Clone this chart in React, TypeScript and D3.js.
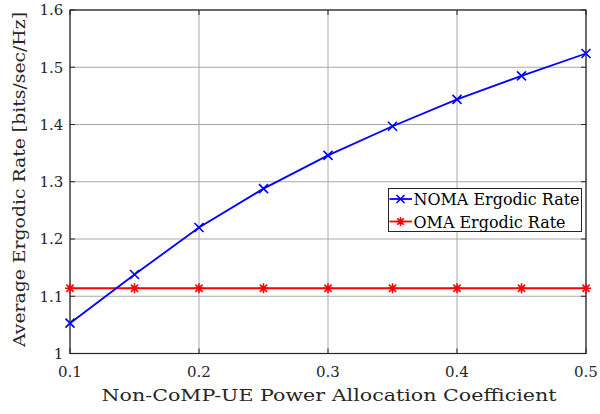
import React from "react";
import * as d3 from "d3";

const alphas = [0.1, 0.15, 0.2, 0.25, 0.3, 0.35, 0.4, 0.45, 0.5];
const nomaRate = [1.053, 1.138, 1.22, 1.288, 1.346, 1.397, 1.444, 1.485, 1.524];
const omaRate = [1.114, 1.114, 1.114, 1.114, 1.114, 1.114, 1.114, 1.114, 1.114];
const xTicks = [0.1, 0.2, 0.3, 0.4, 0.5];
const yTicks = [1, 1.1, 1.2, 1.3, 1.4, 1.5, 1.6];
const seriesNames = ["NOMA Ergodic Rate", "OMA Ergodic Rate"];

const W = 600;
const H = 414;
const M = { left: 70, right: 586, top: 10, bottom: 353.5 };
const FONT = "'DejaVu Serif', 'Liberation Serif', serif";

export default function App() {
  const x = d3.scaleLinear().domain([0.1, 0.5]).range([M.left, M.right]);
  const y = d3.scaleLinear().domain([1, 1.6]).range([M.bottom, M.top]);
  const line = d3
    .line<number>()
    .x((_, i) => x(alphas[i]))
    .y((d) => y(d));

  const axisColor = "#262626";
  const gridColor = "#a8a8a8";
  const tickLen = 5;

  const xMark = (cx: number, cy: number, s: number, key: string) => (
    <path
      key={key}
      d={`M${cx - s},${cy - s}L${cx + s},${cy + s}M${cx - s},${cy + s}L${cx + s},${cy - s}`}
      stroke="#0000ff"
      strokeWidth={1.6}
    />
  );
  const starMark = (cx: number, cy: number, s: number, key: string) => {
    const d2 = s * 0.72;
    return (
      <path
        key={key}
        d={`M${cx - s},${cy}L${cx + s},${cy}M${cx},${cy - s}L${cx},${cy + s}M${cx - d2},${cy - d2}L${cx + d2},${cy + d2}M${cx - d2},${cy + d2}L${cx + d2},${cy - d2}`}
        stroke="#ff0000"
        strokeWidth={1.6}
      />
    );
  };

  const lg = { x: 388.5, y: 188.5, w: 193, h: 43 };

  return (
    <svg width={W} height={H} style={{ position: "absolute", left: 0, top: 0, background: "#fff" }}>
      <rect x={0} y={0} width={W} height={H} fill="#fff" />
      {/* grid */}
      {xTicks.map((t) => (
        <line key={"gx" + t} x1={x(t)} x2={x(t)} y1={M.top} y2={M.bottom} stroke={gridColor} strokeWidth={1} />
      ))}
      {yTicks.map((t) => (
        <line key={"gy" + t} x1={M.left} x2={M.right} y1={y(t)} y2={y(t)} stroke={gridColor} strokeWidth={1} />
      ))}
      {/* ticks (inside, both sides) */}
      {xTicks.map((t) => (
        <g key={"tx" + t}>
          <line x1={x(t)} x2={x(t)} y1={M.bottom} y2={M.bottom - tickLen} stroke={axisColor} />
          <line x1={x(t)} x2={x(t)} y1={M.top} y2={M.top + tickLen} stroke={axisColor} />
        </g>
      ))}
      {yTicks.map((t) => (
        <g key={"ty" + t}>
          <line x1={M.left} x2={M.left + tickLen} y1={y(t)} y2={y(t)} stroke={axisColor} />
          <line x1={M.right} x2={M.right - tickLen} y1={y(t)} y2={y(t)} stroke={axisColor} />
        </g>
      ))}
      {/* box */}
      <rect x={M.left} y={M.top} width={M.right - M.left} height={M.bottom - M.top} fill="none" stroke={axisColor} strokeWidth={1.2} />
      {/* series */}
      <path d={line(omaRate) || ""} fill="none" stroke="#ff0000" strokeWidth={1.8} />
      <path d={line(nomaRate) || ""} fill="none" stroke="#0000ff" strokeWidth={1.8} />
      {omaRate.map((v, i) => starMark(x(alphas[i]), y(v), 5, "s" + i))}
      {nomaRate.map((v, i) => xMark(x(alphas[i]), y(v), 4.5, "x" + i))}
      {/* tick labels */}
      {xTicks.map((t) => (
        <text key={"lx" + t} x={x(t)} y={376.7} textAnchor="middle" fontFamily={FONT} fontSize={15} fill={axisColor}>
          {d3.format("")(t)}
        </text>
      ))}
      {yTicks.map((t) => (
        <text key={"ly" + t} x={63.3} y={y(t) + 5.3} textAnchor="end" fontFamily={FONT} fontSize={15} fill={axisColor}>
          {d3.format("")(t)}
        </text>
      ))}
      {/* axis titles */}
      <text
        x={329}
        y={400.7}
        textAnchor="middle"
        fontFamily={FONT}
        fontSize={16.5}
        textLength={455}
        lengthAdjust="spacingAndGlyphs"
        fill={axisColor}
      >
        Non-CoMP-UE Power Allocation Coefficient
      </text>
      <text
        transform={`translate(24.5,179.5) rotate(-90)`}
        textAnchor="middle"
        fontFamily={FONT}
        fontSize={16.5}
        textLength={335}
        lengthAdjust="spacingAndGlyphs"
        fill={axisColor}
      >
        Average Ergodic Rate [bits/sec/Hz]
      </text>
      {/* legend */}
      <rect x={lg.x} y={lg.y} width={lg.w} height={lg.h} fill="#fff" stroke={axisColor} strokeWidth={1} />
      <line x1={lg.x + 1} x2={lg.x + 23.5} y1={lg.y + 10.5} y2={lg.y + 10.5} stroke="#0000ff" strokeWidth={1.8} />
      {xMark(lg.x + 12, lg.y + 10.5, 4, "lgx")}
      <text
        x={lg.x + 25}
        y={lg.y + 16.5}
        fontFamily={FONT}
        fontSize={16}
        textLength={166}
        lengthAdjust="spacingAndGlyphs"
        fill="#000"
      >
        {seriesNames[0]}
      </text>
      <line x1={lg.x + 1} x2={lg.x + 23.5} y1={lg.y + 33} y2={lg.y + 33} stroke="#ff0000" strokeWidth={1.8} />
      {starMark(lg.x + 12, lg.y + 33, 4.5, "lgs")}
      <text
        x={lg.x + 25}
        y={lg.y + 39}
        fontFamily={FONT}
        fontSize={16}
        textLength={152}
        lengthAdjust="spacingAndGlyphs"
        fill="#000"
      >
        {seriesNames[1]}
      </text>
    </svg>
  );
}
